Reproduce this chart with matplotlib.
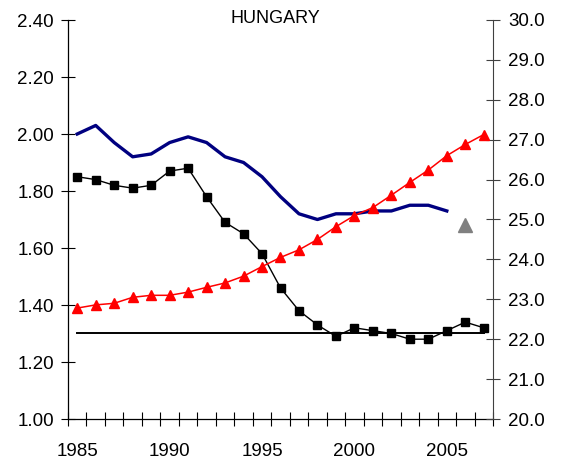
import matplotlib

matplotlib.use("Agg")

import matplotlib.pyplot as plt
import numpy as np

plt.rcParams["font.family"] = ["Liberation Sans", "DejaVu Sans"]

years = np.arange(1985, 2008)

# total fertility rate (left axis)
tfr = [1.85, 1.84, 1.82, 1.81, 1.82, 1.87, 1.88, 1.78, 1.69, 1.65, 1.58, 1.46,
       1.38, 1.33, 1.29, 1.32, 1.31, 1.30, 1.28, 1.28, 1.31, 1.34, 1.32]

# adjusted TFR (left axis), 1985-2005
adj_years = np.arange(1985, 2006)
adj_tfr = [2.00, 2.03, 1.97, 1.92, 1.93, 1.97, 1.99, 1.97, 1.92, 1.90, 1.85,
           1.78, 1.72, 1.70, 1.72, 1.72, 1.73, 1.73, 1.75, 1.75, 1.73]

# mean age at first birth (right axis)
mean_age = [22.78, 22.86, 22.90, 23.05, 23.10, 23.10, 23.18, 23.30, 23.41,
            23.58, 23.82, 24.05, 24.24, 24.50, 24.82, 25.10, 25.30, 25.61,
            25.93, 26.24, 26.60, 26.88, 27.13]

# single extra point (right axis)
extra_year = [2006]
extra_value = [24.86]

reference_level = 1.30

fig = plt.figure(figsize=(5.64, 4.61), dpi=100)
ax = fig.add_axes([68 / 564, 42 / 461, 425 / 564, 399 / 461])
ax2 = ax.twinx()

ax.plot(adj_years, adj_tfr, color="#000080", lw=2.4, zorder=3)
ax.plot(years, tfr, color="black", lw=1.0, marker="s", ms=5.5, zorder=4)
ax.plot([years[0], years[-1]], [reference_level, reference_level],
        color="black", lw=1.4, zorder=2)

ax2.plot(years, mean_age, color="#ff0000", lw=1.1, marker="^", ms=6.5, zorder=3)
ax2.plot(extra_year, extra_value, color="#808080", marker="^", ms=10, lw=0)

ax.set_xlim(1984.5, 2007.5)
ax.set_ylim(1.0, 2.4)
ax2.set_ylim(20.0, 30.0)

ax.set_yticks(np.arange(1.0, 2.41, 0.2))
ax.set_yticklabels([f"{v:.2f}" for v in np.arange(1.0, 2.41, 0.2)])
ax2.set_yticks(np.arange(20, 31, 1))
ax2.set_yticklabels([f"{v:.1f}" for v in np.arange(20, 31, 1)])

ax.set_xticks([1985, 1990, 1995, 2000, 2005])
ax.set_xticks(np.arange(1984.5, 2008, 1), minor=True)
ax.tick_params(axis="x", which="major", length=0, pad=17, labelsize=13.5)
ax.tick_params(axis="x", which="minor", direction="inout", length=10, width=0.8)
ax.tick_params(axis="y", direction="inout", length=10, width=0.8, pad=5, labelsize=13.5)
ax2.tick_params(axis="y", direction="inout", length=10, width=0.8, pad=6,
                labelsize=13.5, color="#404040")

for a in (ax, ax2):
    a.spines["top"].set_visible(False)
ax.spines["right"].set_visible(False)
ax2.spines["left"].set_visible(False)
ax2.spines["bottom"].set_visible(False)
ax2.spines["right"].set_color("#404040")
ax.spines["left"].set_linewidth(0.9)
ax.spines["bottom"].set_linewidth(0.9)

ax.text(1995.7, 2.405, "HUNGARY", ha="center", va="center", fontsize=13)

fig.savefig("out.png", dpi=100)
